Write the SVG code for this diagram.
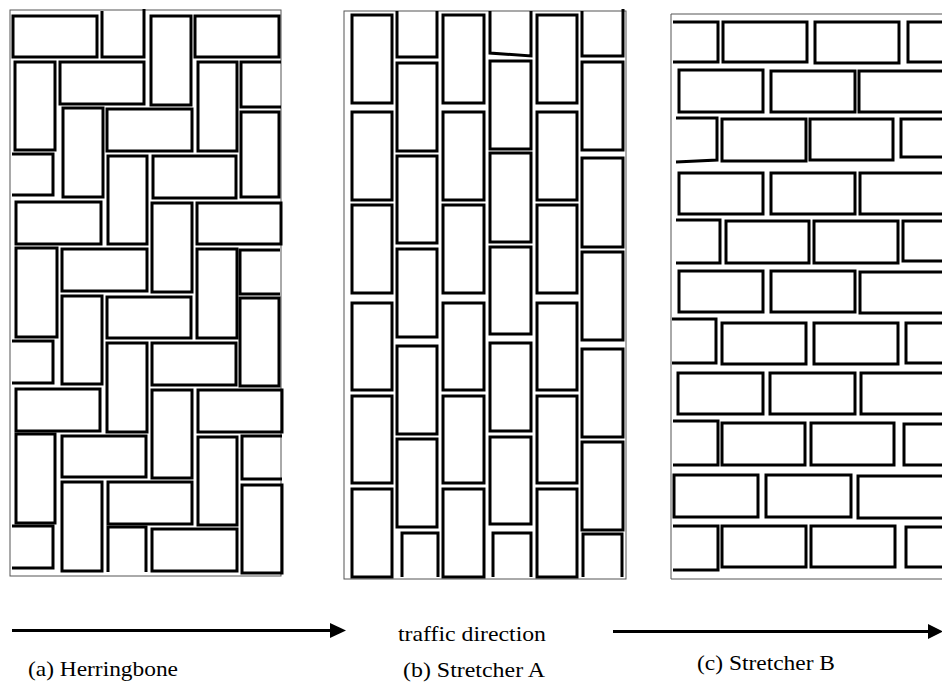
<svg xmlns="http://www.w3.org/2000/svg" width="942" height="682" viewBox="0 0 942 682">
<style>
.frame{fill:none;stroke:#555;stroke-width:1}
.b{fill:none;stroke:#000;stroke-width:3;stroke-linejoin:miter}
.p{fill:none;stroke:#000;stroke-width:3;stroke-linejoin:miter}
.t{font-family:"Liberation Serif","Times New Roman",serif;font-size:22px;fill:#000}
.ar{stroke:#000;stroke-width:3}
</style>
<rect width="942" height="682" fill="#fff"/>

<g id="panel-a">
<rect class="frame" x="10" y="10" width="271" height="566"/>
<rect class="b" x="13" y="16" width="84" height="41"/>
<rect class="b" x="151" y="16" width="40" height="89"/>
<rect class="b" x="195" y="16" width="84" height="41"/>
<rect class="b" x="15" y="62" width="40" height="88"/>
<rect class="b" x="60" y="62" width="84" height="42"/>
<rect class="b" x="198" y="62" width="39" height="89"/>
<rect class="b" x="63" y="108" width="40" height="89"/>
<rect class="b" x="107" y="109" width="85" height="42"/>
<rect class="b" x="241" y="112" width="38" height="85"/>
<rect class="b" x="108" y="156" width="39" height="88"/>
<rect class="b" x="153" y="156" width="83" height="42"/>
<rect class="b" x="16" y="202" width="85" height="42"/>
<rect class="b" x="152" y="203" width="40" height="89"/>
<rect class="b" x="197" y="203" width="84" height="41"/>
<rect class="b" x="16" y="248" width="41" height="89"/>
<rect class="b" x="62" y="249" width="85" height="42"/>
<rect class="b" x="197" y="249" width="40" height="89"/>
<rect class="b" x="62" y="296" width="40" height="88"/>
<rect class="b" x="107" y="297" width="84" height="41"/>
<rect class="b" x="240" y="298" width="39" height="88"/>
<rect class="b" x="107" y="343" width="40" height="89"/>
<rect class="b" x="152" y="343" width="84" height="42"/>
<rect class="b" x="16" y="389" width="84" height="42"/>
<rect class="b" x="152" y="390" width="40" height="88"/>
<rect class="b" x="198" y="390" width="84" height="42"/>
<rect class="b" x="16" y="434" width="39" height="89"/>
<rect class="b" x="62" y="436" width="84" height="41"/>
<rect class="b" x="198" y="437" width="39" height="88"/>
<rect class="b" x="62" y="482" width="40" height="89"/>
<rect class="b" x="108" y="482" width="84" height="42"/>
<rect class="b" x="242" y="485" width="40" height="88"/>
<rect class="b" x="152" y="529" width="85" height="42"/>
<path class="p" d="M102 11V57H144V9"/>
<path class="p" d="M281 62H241V107H281"/>
<path class="p" d="M12 154H53V195H12"/>
<path class="p" d="M280 250H240V294H280"/>
<path class="p" d="M12 341H53V383H12"/>
<path class="p" d="M282 436H242V479H282"/>
<path class="p" d="M12 526H53V568H12"/>
<path class="p" d="M108 572V527H146V572"/>
</g>

<g id="panel-b">
<rect class="frame" x="344" y="11" width="282" height="568"/>
<rect class="b" x="352" y="15" width="40" height="88"/>
<rect class="b" x="352" y="112" width="40" height="88"/>
<rect class="b" x="352" y="205" width="40" height="88"/>
<rect class="b" x="352" y="303" width="40" height="87"/>
<rect class="b" x="352" y="396" width="40" height="87"/>
<rect class="b" x="352" y="489" width="40" height="88"/>
<rect class="b" x="443" y="15" width="41" height="88"/>
<rect class="b" x="443" y="112" width="41" height="88"/>
<rect class="b" x="443" y="205" width="41" height="88"/>
<rect class="b" x="443" y="303" width="41" height="87"/>
<rect class="b" x="443" y="396" width="41" height="87"/>
<rect class="b" x="443" y="489" width="41" height="88"/>
<rect class="b" x="537" y="15" width="40" height="88"/>
<rect class="b" x="537" y="112" width="40" height="88"/>
<rect class="b" x="537" y="205" width="40" height="88"/>
<rect class="b" x="537" y="303" width="40" height="87"/>
<rect class="b" x="537" y="396" width="40" height="87"/>
<rect class="b" x="537" y="489" width="40" height="88"/>
<path class="p" d="M397 11V57H437V11"/>
<rect class="b" x="397" y="63" width="40" height="88"/>
<rect class="b" x="397" y="156" width="40" height="87"/>
<rect class="b" x="397" y="249" width="40" height="88"/>
<rect class="b" x="397" y="346" width="40" height="88"/>
<rect class="b" x="397" y="439" width="40" height="88"/>
<path class="p" d="M402 577V533H438V577"/>
<path class="p" d="M490 11V53L531 56V11"/>
<rect class="b" x="490" y="61" width="41" height="88"/>
<rect class="b" x="490" y="153" width="41" height="89"/>
<rect class="b" x="490" y="247" width="41" height="87"/>
<rect class="b" x="490" y="343" width="41" height="88"/>
<rect class="b" x="490" y="437" width="41" height="87"/>
<path class="p" d="M493 577V533H531V577"/>
<path class="p" d="M582 11V56H623V9"/>
<rect class="b" x="582" y="62" width="41" height="88"/>
<rect class="b" x="582" y="158" width="41" height="89"/>
<rect class="b" x="582" y="252" width="41" height="88"/>
<rect class="b" x="582" y="349" width="41" height="88"/>
<rect class="b" x="582" y="442" width="41" height="88"/>
<path class="p" d="M583 577V534H622V577"/>
</g>

<g id="panel-c">
<path class="frame" d="M942 14H671V579H942"/>
<path class="p" d="M673 22H718V62H673"/>
<rect class="b" x="723" y="22" width="84" height="40"/>
<rect class="b" x="815" y="22" width="84" height="41"/>
<path class="p" d="M942 22H908V62H942"/>
<rect class="b" x="679" y="70" width="84" height="42"/>
<rect class="b" x="771" y="71" width="84" height="41"/>
<path class="p" d="M942 71H859V112H942"/>
<path class="p" d="M676 118H717V160L676 162"/>
<rect class="b" x="722" y="119" width="84" height="42"/>
<rect class="b" x="810" y="119" width="83" height="41"/>
<path class="p" d="M942 119H901V157H942"/>
<rect class="b" x="679" y="173" width="84" height="41"/>
<rect class="b" x="771" y="173" width="84" height="41"/>
<path class="p" d="M942 173H860V214H942"/>
<path class="p" d="M676 220H720V263H676"/>
<rect class="b" x="726" y="221" width="83" height="42"/>
<rect class="b" x="814" y="221" width="84" height="42"/>
<path class="p" d="M942 221H903V261H942"/>
<rect class="b" x="679" y="271" width="84" height="41"/>
<rect class="b" x="771" y="271" width="84" height="41"/>
<path class="p" d="M942 272H860V313H942"/>
<path class="p" d="M672 319H716V363H672"/>
<rect class="b" x="722" y="323" width="84" height="41"/>
<rect class="b" x="814" y="323" width="84" height="41"/>
<path class="p" d="M942 323H906V363H942"/>
<rect class="b" x="678" y="373" width="85" height="41" stroke-width="3.5"/>
<rect class="b" x="770" y="373" width="85" height="41" stroke-width="3.5"/>
<path class="p" d="M942 373H861V414H942" stroke-width="3.5"/>
<path class="p" d="M673 421H718V465H673"/>
<rect class="b" x="722" y="423" width="83" height="42"/>
<rect class="b" x="811" y="423" width="83" height="42"/>
<path class="p" d="M942 424H904V465H942"/>
<rect class="b" x="674" y="475" width="84" height="42"/>
<rect class="b" x="766" y="475" width="85" height="42"/>
<path class="p" d="M942 476H858V518H942"/>
<path class="p" d="M673 526H718V570H673"/>
<rect class="b" x="722" y="526" width="84" height="41"/>
<rect class="b" x="811" y="526" width="84" height="41"/>
<path class="p" d="M942 527H906V567H942"/>
</g>

<g id="connectors">
<line class="ar" x1="12" y1="630.5" x2="332" y2="630.5"/>
<polygon points="330,623 346,630.5 330,638" fill="#000"/>
<line class="ar" x1="613" y1="631.5" x2="930" y2="631.5"/>
<polygon points="928,624 943,631.5 928,639" fill="#000"/>
</g>

<g id="labels">
<text class="t" x="398" y="641" textLength="148" lengthAdjust="spacingAndGlyphs">traffic direction</text>
<text class="t" x="28" y="676" textLength="150" lengthAdjust="spacingAndGlyphs">(a) Herringbone</text>
<text class="t" x="403" y="677" textLength="142" lengthAdjust="spacingAndGlyphs">(b) Stretcher A</text>
<text class="t" x="697" y="670" textLength="138" lengthAdjust="spacingAndGlyphs">(c) Stretcher B</text>
</g>
</svg>
